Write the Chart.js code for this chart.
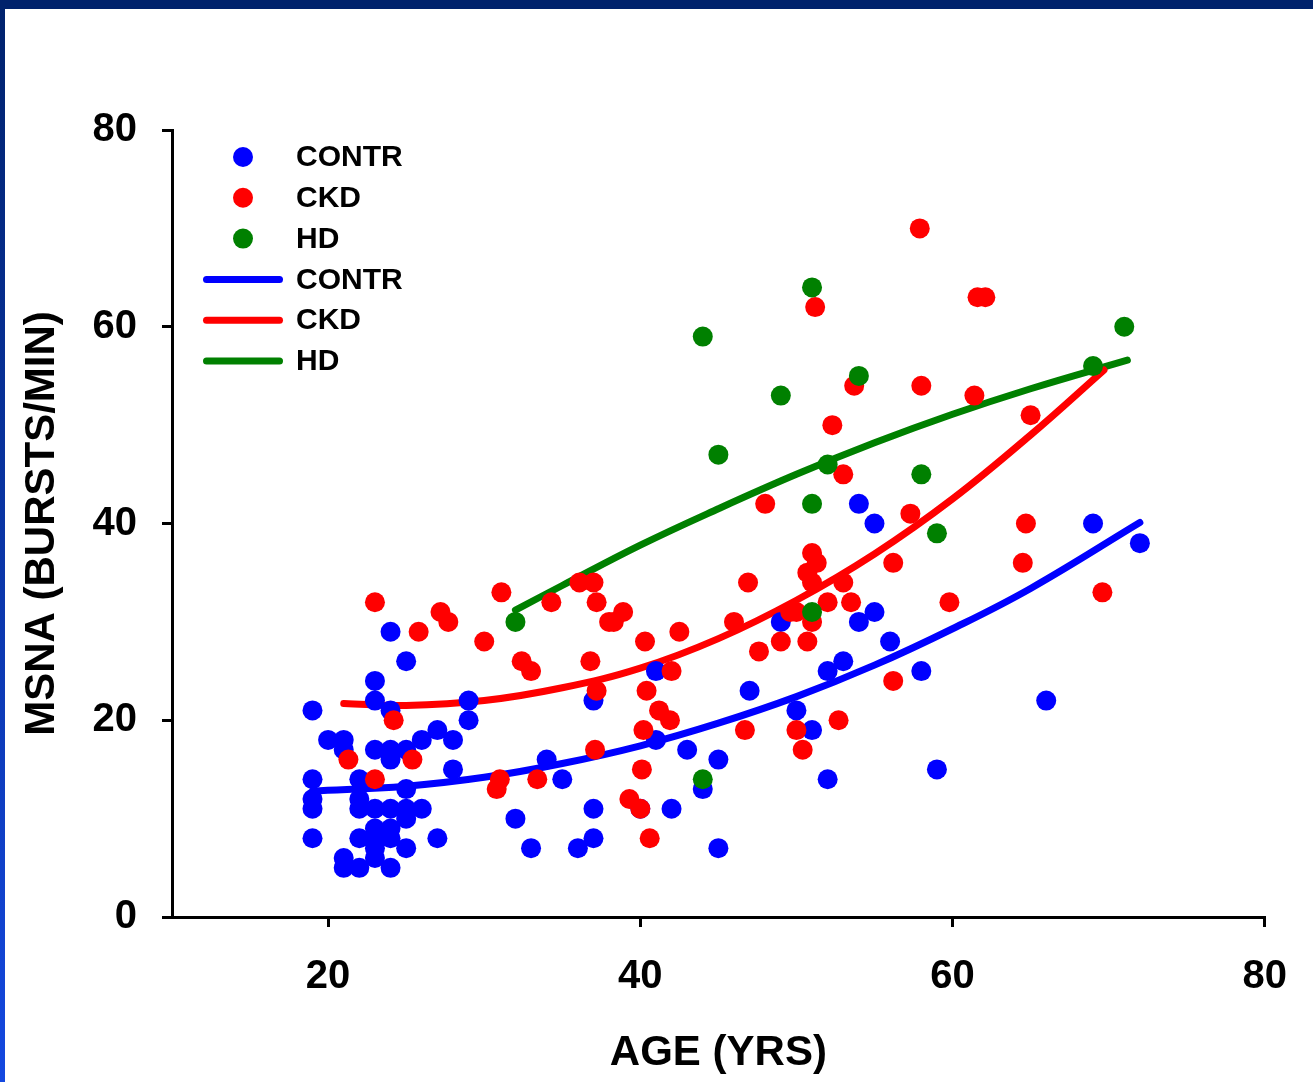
<!DOCTYPE html>
<html>
<head>
<meta charset="utf-8">
<title>MSNA vs Age</title>
<script src="https://cdn.jsdelivr.net/npm/chart.js"></script>
<style>
  body { margin: 0; background: #fff; }
  #wrap { position: relative; width: 1313px; height: 1082px; overflow: hidden; background: #fff; }
  #grafik { display: block; }
  #topbar { position: absolute; left: 0; top: 0; width: 1313px; height: 9px; background: #00226c; }
  #leftbar { position: absolute; left: 0; top: 0; width: 5px; height: 1082px; background: linear-gradient(#00226c, #1448e0); }
</style>
</head>
<body>
<div id="wrap">
  <canvas id="grafik" width="1313" height="1082"></canvas>
  <div id="leftbar"></div>
  <div id="topbar"></div>
</div>
<script>
// data (age in yrs, MSNA in bursts/min)

// CONTR points
var contrAge  = [19, 19, 19, 19, 19, 20, 21, 21, 21, 21, 22, 22, 22, 22, 22,
                 23, 23, 23, 23, 23, 23, 23, 23, 24, 24, 24, 24, 24, 24, 24, 24,
                 25, 25, 25, 25, 25, 25, 26, 26, 27, 27, 28, 28, 29, 29,
                 32, 33, 34, 35, 36, 37, 37, 37, 40, 41, 41, 42, 43, 44, 45, 45,
                 47, 49, 50, 51, 52, 52, 53, 54, 54, 55, 55, 56, 58, 59,
                 66, 69, 72];
var contrMsna = [21, 14, 12, 11, 8, 18, 18, 17, 6, 5, 14, 12, 11, 8, 5,
                 24, 22, 17, 11, 9, 8, 7, 6, 29, 21, 17, 16, 11, 9, 8, 5,
                 26, 17, 13, 11, 10, 7, 18, 11, 19, 8, 18, 15, 22, 20,
                 10, 7, 16, 14, 7, 22, 11, 8, 11, 25, 18, 11, 17, 13, 16, 7,
                 23, 30, 21, 19, 25, 14, 26, 42, 30, 40, 31, 28, 25, 15,
                 22, 40, 38];

// CKD points
var ckdAge  = [21.3, 23, 23, 24.2, 25.4, 25.8, 27.2, 27.7, 30, 30.8, 31, 31.1,
               32.4, 33, 33.4, 34.3, 36.1, 37, 36.8, 37.2, 37.2, 37.1, 38, 38.3, 38.9,
               39.3, 40, 40.1, 40.2, 40.3, 40.4, 40.6, 41.2, 41.9, 42, 42.5,
               46, 46.7, 46.9, 47.6, 48, 49, 49.6, 50, 50, 50.4, 50.7, 50.7,
               51, 51.3, 51, 51, 51.2, 52, 52.3, 52.7, 53, 53, 53.5, 53.7,
               56.2, 56.2, 57.3, 57.9, 58, 59.8, 61.4, 61.6, 62.1, 64.5, 64.7, 65, 69.6];
var ckdMsna = [16, 32, 14, 20, 16, 29, 31, 30, 28, 13, 14, 33,
               26, 25, 14, 32, 34, 34, 26, 32, 23, 17, 30, 30, 31,
               12, 11, 15, 19, 28, 23, 8, 21, 20, 25, 29,
               30, 19, 34, 27, 42, 28, 31, 31, 19, 17, 28, 35,
               37, 36, 34, 30, 62, 32, 50, 20, 34, 45, 32, 54,
               36, 24, 41, 70, 54, 32, 53, 63, 63, 36, 40, 51, 33];

// HD points
var hdAge  = [32, 44, 44, 45, 49, 51, 51, 51, 52, 54, 58, 59, 69, 71];
var hdMsna = [30, 59, 14, 47, 53, 64, 42, 31, 46, 55, 45, 39, 56, 60];

// fitted curves
var contrFitAge  = [19, 25, 30, 35, 40, 45, 50, 55, 60, 65, 72];
var contrFitMsna = [12.8, 13.3, 14.2, 15.6, 17.4, 19.7, 22.4, 25.6, 29.3, 33.4, 40.1];
var ckdFitAge    = [21, 25, 30, 35, 40, 45, 50, 55, 60, 65, 69.7];
var ckdFitMsna   = [21.7, 21.5, 22.0, 23.3, 25.3, 28.3, 32.2, 36.9, 42.5, 49.0, 55.6];
var hdFitAge     = [32, 35, 40, 45, 50, 55, 60, 65, 71.2];
var hdFitMsna    = [31.2, 33.7, 37.8, 41.5, 45.0, 48.2, 51.1, 53.7, 56.6];

// axis ticks
var xTicks = [20, 40, 60, 80];
var yTicks = [0, 20, 40, 60, 80];

var BIRU = '#0000ff', MERAH = '#ff0000', HIJAU = '#008000';

function pasang(xs, ys) {
    return xs.map(function(x, i) {
        return { x: x, y: ys[i] };
    });
}

function titik(label, xs, ys, warna, urut) {
    return {
        label: label,
        data: pasang(xs, ys),
        backgroundColor: warna,
        borderColor: warna,
        borderWidth: 0,
        pointRadius: 10,
        pointHoverRadius: 10,
        order: urut
    };
}

function garis(label, xs, ys, warna, urut) {
    return {
        label: label,
        data: pasang(xs, ys),
        showLine: true,
        backgroundColor: warna,
        borderColor: warna,
        borderWidth: 7,
        borderCapStyle: 'round',
        borderJoinStyle: 'round',
        tension: 0.4,
        pointRadius: 0,
        pointHoverRadius: 0,
        pointHitRadius: 0,
        order: urut
    };
}

// legend drawn at top-left inside the plot, dots then lines
var legendKiri = {
    id: 'legendKiri',
    afterDraw: function(chart) {
        var c = chart.ctx;
        var a = chart.chartArea;
        chart.data.datasets.forEach(function(ds, i) {
            var y = a.top + 27 + i * 40.8;
            c.save();
            if (ds.showLine) {
                c.strokeStyle = ds.borderColor;
                c.lineWidth = 7;
                c.lineCap = 'round';
                c.beginPath();
                c.moveTo(a.left + 34.5, y);
                c.lineTo(a.left + 107.5, y);
                c.stroke();
            } else {
                c.fillStyle = ds.backgroundColor;
                c.beginPath();
                c.arc(a.left + 71, y, 10, 0, Math.PI * 2);
                c.fill();
            }
            c.fillStyle = '#000';
            c.font = 'bold 30px "Liberation Sans", Arial, sans-serif';
            c.textAlign = 'left';
            c.textBaseline = 'middle';
            c.fillText(ds.label, a.left + 124, y + 1);
            c.restore();
        });
    }
};

Chart.defaults.font.family = '"Liberation Sans", Arial, sans-serif';
Chart.defaults.color = '#000';

var ctx = document.getElementById('grafik');

var myChart = new Chart(ctx, {
    type: 'scatter',
    data: {
        datasets: [
            titik('CONTR', contrAge, contrMsna, BIRU, 2),
            titik('CKD', ckdAge, ckdMsna, MERAH, 1),
            titik('HD', hdAge, hdMsna, HIJAU, 0),
            garis('CONTR', contrFitAge, contrFitMsna, BIRU, 3),
            garis('CKD', ckdFitAge, ckdFitMsna, MERAH, 4),
            garis('HD', hdFitAge, hdFitMsna, HIJAU, 5)
        ]
    },
    options: {
        responsive: false,
        animation: false,
        layout: {
            padding: { left: 0, right: 46, top: 130, bottom: 0 }
        },
        plugins: {
            legend: { display: false },
            tooltip: { enabled: false }
        },
        scales: {
            x: {
                type: 'linear',
                min: 10,
                max: 80,
                afterBuildTicks: function(s) {
                    s.ticks = xTicks.map(function(v) { return { value: v }; });
                },
                afterFit: function(s) { s.height = 165; },
                border: { display: true, color: '#000', width: 3 },
                grid: { drawOnChartArea: false, drawTicks: true, tickLength: 10, color: '#000', lineWidth: 3 },
                ticks: { padding: 26, color: '#000', font: { size: 40, weight: 'bold' } },
                title: {
                    display: true,
                    text: 'AGE (YRS)',
                    color: '#000',
                    font: { size: 42, weight: 'bold' },
                    padding: { top: 0, bottom: 3 }
                }
            },
            y: {
                type: 'linear',
                min: 0,
                max: 80,
                afterBuildTicks: function(s) {
                    s.ticks = yTicks.map(function(v) { return { value: v }; });
                },
                afterFit: function(s) { s.width = 172; },
                border: { display: true, color: '#000', width: 3 },
                grid: { drawOnChartArea: false, drawTicks: true, tickLength: 10, color: '#000', lineWidth: 3 },
                ticks: { padding: 25, color: '#000', font: { size: 40, weight: 'bold' } },
                title: {
                    display: true,
                    text: 'MSNA (BURSTS/MIN)',
                    color: '#000',
                    font: { size: 42, weight: 'bold' },
                    padding: { top: 17, bottom: 0 }
                }
            }
        }
    },
    plugins: [legendKiri]
});
</script>
</body>
</html>
